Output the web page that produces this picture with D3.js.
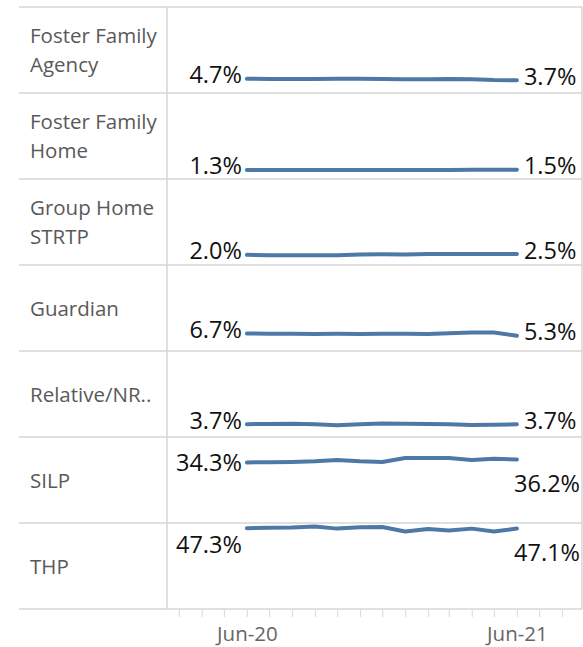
<!DOCTYPE html>
<html>
<head>
<meta charset="utf-8">
<script src="https://cdn.jsdelivr.net/npm/d3@7"></script>
<style>
  html, body { margin: 0; padding: 0; background: #fff; }
  svg { display: block; }
</style>
</head>
<body>
<svg id="chart" width="583" height="647"></svg>
<script>
// ---------- data ----------
const categories = ["Foster Family Agency", "Foster Family Home", "Group Home STRTP", "Guardian", "Relative/NR..", "SILP", "THP"];
const months = ["2020-06", "2020-07", "2020-08", "2020-09", "2020-10", "2020-11", "2020-12",
                "2021-01", "2021-02", "2021-03", "2021-04", "2021-05", "2021-06"];
const fosterFamilyAgency = [4.7, 4.5, 4.4, 4.5, 4.7, 4.6, 4.4, 4.3, 4.3, 4.5, 4.3, 3.8, 3.7];
const fosterFamilyHome   = [1.3, 1.3, 1.3, 1.3, 1.3, 1.3, 1.3, 1.3, 1.3, 1.3, 1.4, 1.5, 1.5];
const groupHomeSTRTP     = [2.0, 1.8, 1.7, 1.7, 1.8, 2.3, 2.4, 2.3, 2.5, 2.5, 2.6, 2.6, 2.5];
const guardian           = [6.7, 6.6, 6.5, 6.4, 6.5, 6.4, 6.5, 6.5, 6.4, 6.9, 7.4, 7.3, 5.3];
const relativeNR         = [3.7, 3.9, 4.0, 3.6, 3.1, 3.6, 4.2, 4.0, 3.8, 3.6, 3.2, 3.3, 3.7];
const silp               = [34.3, 34.5, 34.6, 35.0, 35.8, 35.0, 34.6, 37.2, 37.2, 37.1, 35.8, 36.7, 36.2];
const thp                = [47.3, 47.5, 47.7, 48.3, 47.0, 47.9, 48.0, 45.2, 46.7, 45.8, 47.0, 45.1, 47.1];
const seriesValues = [fosterFamilyAgency, fosterFamilyHome, groupHomeSTRTP, guardian, relativeNR, silp, thp];
const axisTickLabels = ["Jun-20", "Jun-21"];

(function () {
// ---------- layout ----------
const svg = d3.select("#chart");
const leftX = 19, divider = 167, rightX = 582, topY = 7, rowH = 86;
const nRows = categories.length;
const bottomY = topY + rowH * nRows;
const gridColor = "#d6d6d6";
const lineColor = "#4e79a7";
const parse = d3.timeParse("%Y-%m");
const dates = months.map(parse);

const x = d3.scaleTime()
  .domain([new Date(2020, 1, 14), new Date(2021, 7, 28)])
  .range([divider, rightX]);
const y = d3.scaleLinear().domain([-4.5, 50.6]).range([rowH, 0]);

// label placement per row: start/end modes
const placement = [
  {s: "side", e: "side"}, {s: "side", e: "side"}, {s: "side", e: "side"},
  {s: "side", e: "side"}, {s: "side", e: "side"},
  {s: "mid", e: "below"}, {s: "below", e: "below"}
];

// grid lines
const grid = svg.append("g");
d3.range(nRows + 1).forEach(i => {
  grid.append("line").attr("x1", leftX).attr("x2", rightX)
    .attr("y1", topY + i * rowH).attr("y2", topY + i * rowH)
    .attr("stroke", gridColor).attr("stroke-width", 1.5);
});
[divider, rightX].forEach(xx => {
  grid.append("line").attr("x1", xx).attr("x2", xx)
    .attr("y1", topY).attr("y2", bottomY)
    .attr("stroke", gridColor).attr("stroke-width", 1.5);
});

const line = d3.line().x((d, i) => x(dates[i])).y(d => y(d)).curve(d3.curveLinear);
const fmt = v => v.toFixed(1) + "%";
const valFont = "'Open Sans', sans-serif";

categories.forEach((cat, r) => {
  const g = svg.append("g").attr("transform", `translate(0,${topY + r * rowH})`);
  // row label with wrapping
  const words = cat.split(" ");
  const lines = [];
  const tmp = g.append("text").attr("font-family", valFont).attr("font-size", 20.5);
  let cur = "";
  words.forEach(w => {
    const test = cur ? cur + " " + w : w;
    tmp.text(test);
    if (tmp.node().getComputedTextLength() > 135 && cur) { lines.push(cur); cur = w; }
    else cur = test;
  });
  lines.push(cur);
  tmp.remove();
  const lh = 29;
  const firstBase = rowH / 2 + 7.5 - (lines.length - 1) * lh / 2;
  lines.forEach((t, k) => {
    g.append("text").attr("x", 30).attr("y", firstBase + k * lh)
      .attr("font-family", valFont).attr("font-size", 20.5).attr("fill", "#595959")
      .text(t);
  });

  const vals = seriesValues[r];
  g.append("path").datum(vals).attr("d", line)
    .attr("fill", "none").attr("stroke", lineColor).attr("stroke-width", 4)
    .attr("stroke-linecap", "round").attr("stroke-linejoin", "round");

  const y0 = y(vals[0]), y1 = y(vals[vals.length - 1]);
  const x0 = x(dates[0]), x1 = x(dates[dates.length - 1]);
  const p = placement[r];
  const sY = p.s === "side" ? y0 + 4.5 : p.s === "mid" ? y0 + 8.5 : y0 + 24.5;
  g.append("text").attr("x", x0 - 5).attr("y", sY).attr("text-anchor", "end")
    .attr("font-family", valFont).attr("font-size", 23.5).attr("fill", "#111")
    .text(fmt(vals[0]));
  if (p.e === "side") {
    g.append("text").attr("x", x1 + 7).attr("y", y1 + 4.5)
      .attr("font-family", valFont).attr("font-size", 23.5).attr("fill", "#111")
      .text(fmt(vals[vals.length - 1]));
  } else {
    g.append("text").attr("x", rightX - 2).attr("y", y1 + 32.5).attr("text-anchor", "end")
      .attr("font-family", valFont).attr("font-size", 23.5).attr("fill", "#111")
      .text(fmt(vals[vals.length - 1]));
  }
});

// x axis
const fmtTick = d3.timeFormat("%b-%y");
const axis = d3.axisBottom(x)
  .ticks(d3.timeMonth.every(1))
  .tickSize(7)
  .tickFormat(d => axisTickLabels.includes(fmtTick(d)) ? fmtTick(d) : "");
const ag = svg.append("g").attr("transform", `translate(0,${bottomY + 1})`).call(axis);
ag.select(".domain").remove();
ag.selectAll(".tick line").attr("stroke", "#dedede").attr("stroke-width", 1.2);
ag.selectAll(".tick text")
  .attr("y", 31).attr("dy", 0)
  .attr("font-family", valFont).attr("font-size", 20.5).attr("fill", "#666");
})();
</script>
</body>
</html>
